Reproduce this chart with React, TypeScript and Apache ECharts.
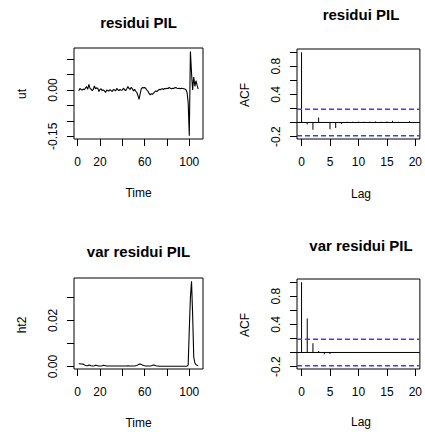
import React, { useEffect, useRef } from "react";
import * as echarts from "echarts";

// ---- data ----
const utValues = [
  -0.002, 0.005, 0.002, 0.0, 0.003, 0.001, 0.006, 0.011, 0.002, 0.018,
  0.006, 0.003, -0.002, 0.002, 0.013, 0.004, 0.007, 0.006, -0.005, 0.002,
  0.004, -0.002, 0.0, -0.003, -0.008, 0.0, -0.002, -0.003, 0.001, -0.002,
  -0.005, 0.002, 0.0, -0.003, 0.005, 0.001, -0.002, 0.002, -0.001, 0.0,
  0.006, 0.001, -0.002, 0.004, 0.011, 0.005, 0.002, 0.009, 0.004, -0.003,
  0.002, -0.004, -0.008, -0.018, -0.03, -0.012, 0.004, 0.008, 0.007, 0.008,
  0.005, 0.0, -0.004, -0.011, -0.016, -0.012, -0.014, -0.01, -0.006, -0.003,
  -0.005, -0.001, 0.002, 0.001, 0.003, 0.004, 0.002, 0.005, 0.004, 0.006,
  0.005, 0.008, 0.006, 0.004, 0.006, 0.005, 0.007, 0.008, 0.006, 0.005,
  0.006, 0.004, 0.006, 0.005, 0.004, 0.003, 0.001, -0.008, -0.04, -0.148,
  0.125, 0.055, 0.0, 0.042, 0.012, 0.03, 0.015, 0.003,
];

const ht2Values = [
  0.0012, 0.0012, 0.0011, 0.0011, 0.001, 0.0007, 0.0004, 0.0003, 0.0003, 0.0006,
  0.0005, 0.0003, 0.0002, 0.0002, 0.0003, 0.0005, 0.0004, 0.0003, 0.0002, 0.0002,
  0.0002, 0.0003, 0.0005, 0.0004, 0.0003, 0.0002, 0.0002, 0.0002, 0.0002, 0.0002,
  0.0002, 0.0002, 0.0002, 0.0002, 0.0002, 0.0002, 0.0002, 0.0002, 0.0002, 0.0002,
  0.0002, 0.0002, 0.0002, 0.0002, 0.0003, 0.0002, 0.0002, 0.0002, 0.0002, 0.0002,
  0.0002, 0.0003, 0.0004, 0.0007, 0.001, 0.0011, 0.0009, 0.0006, 0.0004, 0.0003,
  0.0002, 0.0002, 0.0002, 0.0002, 0.0002, 0.0003, 0.0005, 0.0006, 0.0005, 0.0003,
  0.0002, 0.0002, 0.0001, 0.0001, 0.0001, 0.0001, 0.0001, 0.0001, 0.0001, 0.0001,
  0.0001, 0.0001, 0.0001, 0.0001, 0.0001, 0.0001, 0.0001, 0.0001, 0.0001, 0.0001,
  0.0001, 0.0001, 0.0001, 0.0001, 0.0001, 0.0001, 0.0001, 0.0002, 0.0006, 0.016,
  0.03, 0.037, 0.0225, 0.004, 0.0015, 0.0008, 0.0005, 0.0003,
];

const acfLags = [0, 1, 2, 3, 4, 5, 6, 7, 8, 9, 10, 11, 12, 13, 14, 15, 16, 17, 18, 19, 20];
const acfResidui = [
  1, -0.03, -0.105, 0.07, -0.005, -0.095, -0.08, -0.02, 0.01, 0.01, 0.01,
  0.01, 0.012, 0.015, 0.01, 0.015, 0.025, 0.012, 0.005, 0.018, 0.008,
];
const acfVar = [
  1, 0.485, 0.13, 0.02, -0.025, -0.022, -0.008, -0.006, -0.008, -0.007, -0.006,
  -0.007, -0.006, -0.005, -0.006, -0.005, -0.006, -0.005, -0.004, -0.005, -0.004,
];

const nObs = 108;
const timeTicks = [0, 20, 40, 60, 80, 100];
const timeLabels = [0, 20, 60, 100];
const lagTicks = [0, 5, 10, 15, 20];
const utTicks = [-0.15, -0.1, -0.05, 0, 0.05, 0.1];
const utLabels = [-0.15, 0];
const ht2Ticks = [0, 0.01, 0.02, 0.03];
const ht2Labels = [0, 0.02];
const acfTicks = [-0.2, 0, 0.2, 0.4, 0.6, 0.8, 1.0];
const acfLabels = [-0.2, 0.4, 0.8];

const titles = ["residui PIL", "residui PIL", "var residui PIL", "var residui PIL"];

const FONT = '"Liberation Sans", Arial, Helvetica, sans-serif';
const CI_BLUE = "#3c3cff";
const LAG_MIN = -0.8;
const LAG_MAX = 20.8;

function buildOption() {
  const ci = 1.96 / Math.sqrt(nObs);
  const timeData = (vals: number[]) => vals.map((v, i) => [i + 1, v]);
  const lagData = (vals: number[]) => vals.map((v, i) => [acfLags[i], v]);

  const gridBox = { show: true, borderColor: "#000", borderWidth: 1, backgroundColor: "transparent", containLabel: false };
  const grid = [
    { left: 74, top: 48, width: 129, height: 91, ...gridBox },
    { left: 297, top: 49, width: 130, height: 90, ...gridBox },
    { left: 74, top: 278, width: 129, height: 91, ...gridBox },
    { left: 297, top: 279, width: 130, height: 90, ...gridBox },
  ];

  const xAxisDef = (gridIndex: number, min: number, max: number, ticks: number[], labels: number[]) => ({
    type: "value",
    gridIndex,
    position: "bottom",
    min,
    max,
    splitLine: { show: false },
    axisLine: { show: false, onZero: false },
    axisTick: { show: true, length: 7, customValues: ticks, lineStyle: { color: "#000", width: 1 } },
    axisLabel: {
      customValues: labels,
      margin: 17,
      fontSize: 12,
      fontFamily: FONT,
      color: "#000",
      formatter: (v: number) => String(v),
    },
  });

  const yAxisDef = (gridIndex: number, min: number, max: number, ticks: number[], labels: number[], digits: number) => ({
    type: "value",
    gridIndex,
    position: "left",
    min,
    max,
    splitLine: { show: false },
    axisLine: { show: false, onZero: false },
    axisTick: { show: true, length: 7, customValues: ticks, lineStyle: { color: "#000", width: 1 } },
    axisLabel: {
      customValues: labels,
      rotate: 90,
      margin: 15,
      fontSize: 12,
      fontFamily: FONT,
      color: "#000",
      formatter: (v: number) => v.toFixed(digits),
    },
  });

  const hLine = (axis: number, y: number, color: string, dashed: boolean) => ({
    type: "line",
    xAxisIndex: axis,
    yAxisIndex: axis,
    data: [
      [LAG_MIN, y],
      [LAG_MAX, y],
    ],
    symbol: "none",
    silent: true,
    z: 3,
    lineStyle: { color, width: dashed ? 1.5 : 1, type: dashed ? [5, 3] : "solid" },
  });

  const acfSeries = (axis: number, vals: number[]) => [
    {
      type: "bar",
      xAxisIndex: axis,
      yAxisIndex: axis,
      data: lagData(vals),
      barWidth: 1,
      itemStyle: { color: "#000" },
    },
    hLine(axis, 0, "#000", false),
    hLine(axis, ci, CI_BLUE, true),
    hLine(axis, -ci, CI_BLUE, true),
  ];

  const text = (t: string, x: number, y: number, size: number, bold: boolean, rotation = 0) => ({
    type: "text",
    x,
    y,
    rotation,
    silent: true,
    style: {
      text: t,
      fill: "#000",
      font: `${bold ? "bold " : ""}${size}px ${FONT}`,
      align: "center",
      verticalAlign: "middle",
      textAlign: "center",
      textVerticalAlign: "middle",
    },
  });

  return {
    animation: false,
    backgroundColor: "#fff",
    grid,
    xAxis: [
      xAxisDef(0, -3.28, 112.28, timeTicks, timeLabels),
      xAxisDef(1, LAG_MIN, LAG_MAX, lagTicks, lagTicks),
      xAxisDef(2, -3.28, 112.28, timeTicks, timeLabels),
      xAxisDef(3, LAG_MIN, LAG_MAX, lagTicks, lagTicks),
    ],
    yAxis: [
      yAxisDef(0, -0.1587, 0.1361, utTicks, utLabels, 2),
      yAxisDef(1, -0.235, 1.045, acfTicks, acfLabels, 1),
      yAxisDef(2, -0.0011, 0.0384, ht2Ticks, ht2Labels, 2),
      yAxisDef(3, -0.235, 1.045, acfTicks, acfLabels, 1),
    ],
    series: [
      {
        type: "line",
        xAxisIndex: 0,
        yAxisIndex: 0,
        data: timeData(utValues),
        symbol: "none",
        lineStyle: { color: "#000", width: 1.1 },
      },
      ...acfSeries(1, acfResidui),
      {
        type: "line",
        xAxisIndex: 2,
        yAxisIndex: 2,
        data: timeData(ht2Values),
        symbol: "none",
        lineStyle: { color: "#000", width: 1.1 },
      },
      ...acfSeries(3, acfVar),
    ],
    graphic: [
      text(titles[0], 138.5, 22, 15, true),
      text(titles[1], 361, 14, 15, true),
      text(titles[2], 138.5, 251, 15, true),
      text(titles[3], 361, 245, 15, true),
      text("Time", 138.5, 193, 12, false),
      text("Time", 138.5, 423, 12, false),
      text("Lag", 361, 194, 12, false),
      text("Lag", 361, 422, 12, false),
      text("ut", 22, 94, 12, false, Math.PI / 2),
      text("ht2", 22, 325, 12, false, Math.PI / 2),
      text("ACF", 245, 95, 12, false, Math.PI / 2),
      text("ACF", 245, 325, 12, false, Math.PI / 2),
    ],
  };
}

export default function App() {
  const ref = useRef<HTMLDivElement>(null);
  useEffect(() => {
    document.body.style.margin = "0";
    const chart = echarts.init(ref.current as HTMLDivElement, null, { renderer: "svg" });
    chart.setOption(buildOption() as any);
    return () => chart.dispose();
  }, []);
  return <div ref={ref} style={{ width: 425, height: 432, overflow: "hidden" }} />;
}
